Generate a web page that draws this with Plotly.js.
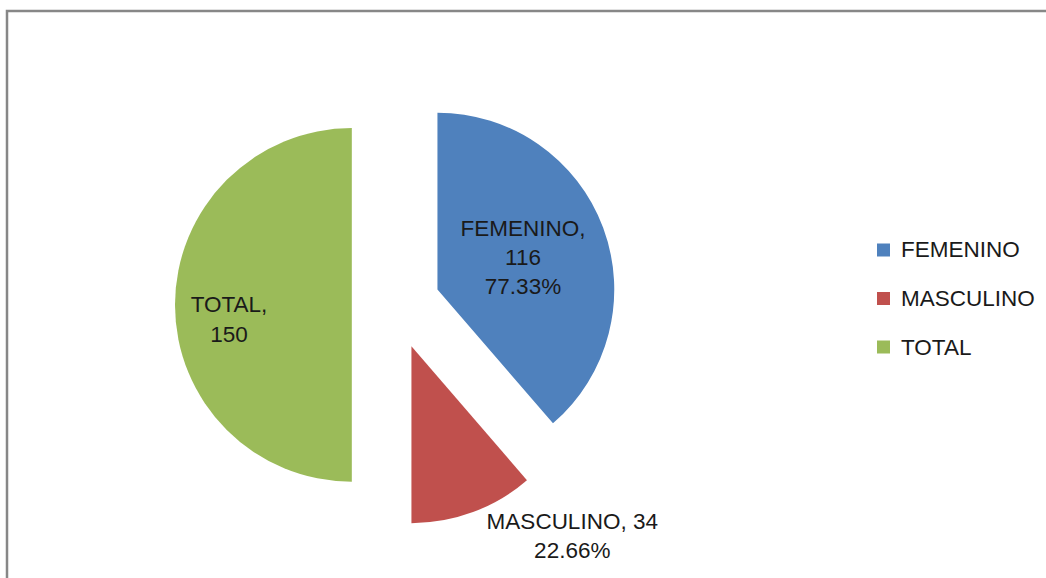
<!DOCTYPE html>
<html>
<head>
<meta charset="utf-8">
<script src="https://cdn.plot.ly/plotly-3.0.1.min.js"></script>
<style>html,body{margin:0;padding:0;background:#fff;}#chart{width:1046px;height:578px;}</style>
</head>
<body>
<div id="chart"></div>
<script>
const categories = ["FEMENINO", "MASCULINO", "TOTAL"];
const values = [116, 34, 150];
const percentLabels = ["77.33%", "22.66%", ""];
const colors = ["#4F81BD", "#C0504D", "#9BBB59"];

const NB = "\u00a0";
const sliceText = [
  categories[0] + ",<br>" + values[0] + "<br>" + percentLabels[0],
  categories[1] + ", " + values[1] + "<br>" + percentLabels[1],
  NB + "<br>" + categories[2] + "," + NB.repeat(11) + "<br>" + values[2] + NB.repeat(11)
];

const FONT = "Liberation Sans, Arial, sans-serif";
const FS = 22.5;

const trace = {
  type: "pie",
  labels: categories,
  values: values,
  text: sliceText,
  textinfo: "text",
  texttemplate: "%{text}",
  textposition: ["inside", "outside", "inside"],
  insidetextorientation: "horizontal",
  sort: false,
  direction: "clockwise",
  rotation: 0,
  pull: [0.25, 0.25, 0.25],
  marker: {colors: colors, line: {width: 0}},
  textfont: {family: FONT, size: FS, color: "#1a1a1a"},
  domain: {x: [0.1673, 0.5899], y: [0.09, 0.855]},
  hoverinfo: "label+value",
  showlegend: false
};

// custom legend (entries from categories/colors)
const legX = 877, legY0 = 250, legGap = 48.5, sq = 13;
const shapes = [{
  type: "rect", xref: "paper", yref: "paper",
  x0: 7/1046, x1: 1.05, y0: -0.05, y1: (578-11)/578,
  line: {color: "#878787", width: 2.5}, fillcolor: "rgba(0,0,0,0)"
}];
const annotations = [];
categories.forEach((c, i) => {
  const cy = legY0 + i * legGap;
  shapes.push({
    type: "rect", xref: "paper", yref: "paper",
    x0: legX / 1046, x1: (legX + sq) / 1046,
    y0: (578 - cy - sq / 2) / 578, y1: (578 - cy + sq / 2) / 578,
    fillcolor: colors[i], line: {width: 0}
  });
  annotations.push({
    xref: "paper", yref: "paper",
    x: (legX + sq + 9) / 1046, y: (578 - cy) / 578,
    xanchor: "left", yanchor: "middle", showarrow: false,
    text: c, font: {family: FONT, size: FS, color: "#1a1a1a"}
  });
});

const layout = {
  width: 1046,
  height: 578,
  margin: {l: 0, r: 0, t: 0, b: 0},
  paper_bgcolor: "#ffffff",
  showlegend: false,
  shapes: shapes,
  annotations: annotations
};

Plotly.newPlot("chart", [trace], layout, {displayModeBar: false, staticPlot: true});
</script>
</body>
</html>
